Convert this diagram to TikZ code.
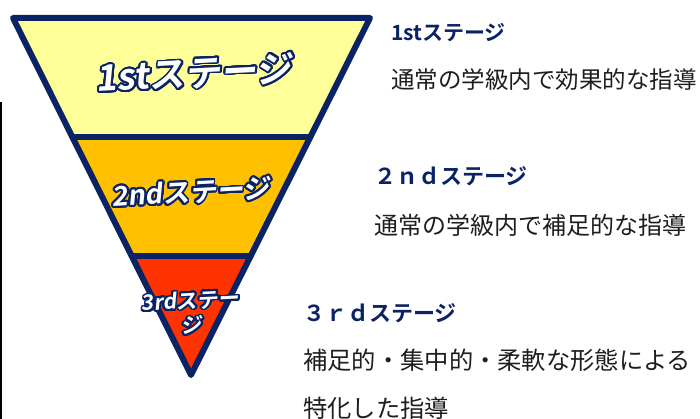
\documentclass[tikz,border=0pt]{standalone}
\usepackage{fontspec}
\usepackage{contour}
\usetikzlibrary{calc}
\newfontfamily\jp{Noto Sans CJK JP}
\newfontfamily\jpb{Noto Sans CJK JP Bold}
\newfontfamily\jpbs{Noto Sans CJK JP Bold}[FakeSlant=0.15]
\definecolor{navy}{HTML}{0A2364}
\definecolor{band1}{HTML}{FFFF99}
\definecolor{band2}{HTML}{FFC000}
\definecolor{band3}{HTML}{FF3300}
\definecolor{body}{HTML}{1E1E1E}
\contourlength{1.8pt}
\contournumber{32}
\tikzset{
  edge/.style={draw=navy, line width=6pt, line join=round, line cap=round},
  head/.style={anchor=west, inner sep=0pt, text=navy},
  bodytext/.style={anchor=west, inner sep=0pt, text=body},
  stagelabel/.style={inner sep=0pt, text=white, align=center}
}
\begin{document}
\begin{tikzpicture}[x=1pt,y=-1pt]
\useasboundingbox (0,0) rectangle (700,419);
\fill[white] (0,0) rectangle (700,419);
\coordinate (TL) at (13,18);
\coordinate (TR) at (370,18);
\coordinate (B) at (191,375);
\coordinate (L1) at ($(TL)!1/3!(B)$);
\coordinate (R1) at ($(TR)!1/3!(B)$);
\coordinate (L2) at ($(TL)!2/3!(B)$);
\coordinate (R2) at ($(TR)!2/3!(B)$);
\fill[band1] (TL) -- (TR) -- (R1) -- (L1) -- cycle;
\fill[band2] (L1) -- (R1) -- (R2) -- (L2) -- cycle;
\fill[band3] (L2) -- (R2) -- (B) -- cycle;
\draw[edge] (L1) -- (R1);
\draw[edge] (L2) -- (R2);
\draw[edge] (TL) -- (TR) -- (B) -- cycle;
\coordinate (s1) at (1,102);
\coordinate (s2) at (1,419);
\draw[black, line width=2pt] (s1) -- (s2);

\node[stagelabel, rotate=3, font=\fontsize{36}{40}\selectfont\jpbs] (in1) at (194,74) {\contour{navy}{1stステージ}};
\node[stagelabel, rotate=3, font=\fontsize{27}{30}\selectfont\jpbs] (in2) at (191,193) {\contour{navy}{2ndステージ}};
\node[stagelabel, rotate=3, font=\fontsize{21}{25}\selectfont\jpbs] (in3) at (191,314) {\contour{navy}{3rdステー}\\\contour{navy}{ジ}};

\node[head, font=\fontsize{21}{24}\selectfont\jpb] (h1) at (391,33) {1stステージ};
\node[bodytext, font=\fontsize{23.5}{26}\selectfont\jp] (b1) at (391,80) {通常の学級内で効果的な指導};
\node[head, font=\fontsize{22}{24}\selectfont\jpb] (h2) at (374,176) {２ｎｄステージ};
\node[bodytext, font=\fontsize{24}{26}\selectfont\jp] (b2) at (374,225) {通常の学級内で補足的な指導};
\node[head, font=\fontsize{22}{24}\selectfont\jpb] (h3) at (303,313) {３ｒｄステージ};
\node[bodytext, font=\fontsize{24.3}{26}\selectfont\jp] (b3) at (303,360) {補足的・集中的・柔軟な形態による};
\node[bodytext, font=\fontsize{24.3}{26}\selectfont\jp] (b4) at (303,408) {特化した指導};
\end{tikzpicture}
\end{document}
